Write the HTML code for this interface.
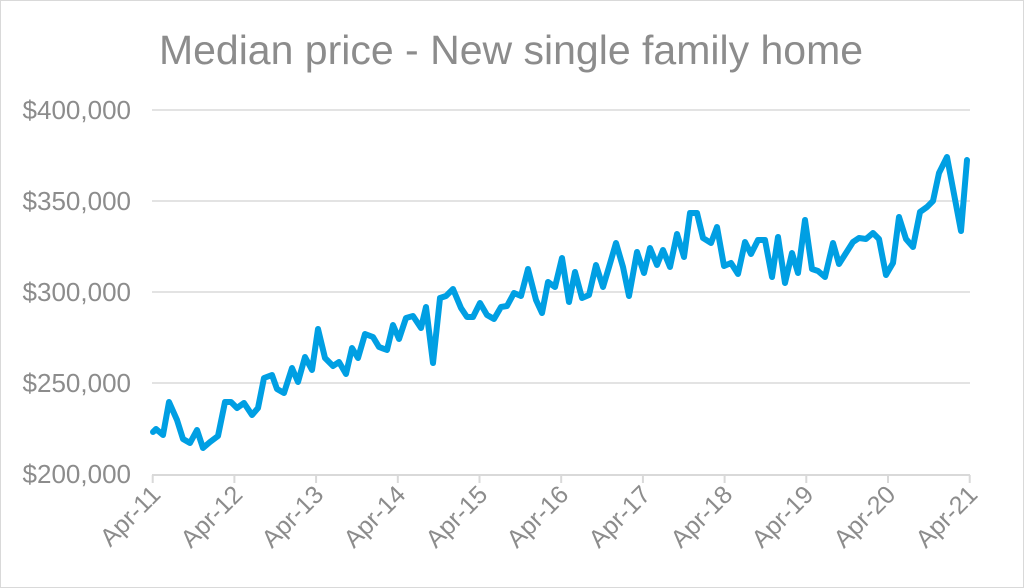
<!DOCTYPE html>
<html><head><style>
html,body{margin:0;padding:0;background:#fff;}
svg{display:block;font-family:"Liberation Sans",Arial,sans-serif;}
</style></head><body>
<svg width="1024" height="588" viewBox="0 0 1024 588">
<rect x="0.5" y="0.5" width="1023" height="587" fill="#fff" stroke="#d9d9d9"/>
<text x="511" y="64" text-anchor="middle" font-size="41" fill="#8c8c8c">Median price - New single family home</text>
<g stroke="#e3e3e3" stroke-width="2">
<line x1="152" y1="110" x2="970" y2="110"/>
<line x1="152" y1="201" x2="970" y2="201"/>
<line x1="152" y1="292" x2="970" y2="292"/>
<line x1="152" y1="383" x2="970" y2="383"/>
</g>
<g stroke="#d9d9d9" stroke-width="2">
<line x1="152" y1="475" x2="970" y2="475"/>
<line x1="152.7" y1="475" x2="152.7" y2="483"/><line x1="234.4" y1="475" x2="234.4" y2="483"/><line x1="316.1" y1="475" x2="316.1" y2="483"/><line x1="397.8" y1="475" x2="397.8" y2="483"/><line x1="479.5" y1="475" x2="479.5" y2="483"/><line x1="561.2" y1="475" x2="561.2" y2="483"/><line x1="642.9" y1="475" x2="642.9" y2="483"/><line x1="724.6" y1="475" x2="724.6" y2="483"/><line x1="806.3" y1="475" x2="806.3" y2="483"/><line x1="888" y1="475" x2="888" y2="483"/><line x1="969.7" y1="475" x2="969.7" y2="483"/>
</g>
<g font-size="26" fill="#8c8c8c" text-anchor="end">
<text x="131" y="119">$400,000</text>
<text x="131" y="210">$350,000</text>
<text x="131" y="301">$300,000</text>
<text x="131" y="392">$250,000</text>
<text x="131" y="483">$200,000</text>
</g>
<g font-size="25" fill="#8c8c8c" text-anchor="end">
<text transform="translate(162,496) rotate(-45)">Apr-11</text>
<text transform="translate(244,496) rotate(-45)">Apr-12</text>
<text transform="translate(325,496) rotate(-45)">Apr-13</text>
<text transform="translate(407,496) rotate(-45)">Apr-14</text>
<text transform="translate(489,496) rotate(-45)">Apr-15</text>
<text transform="translate(570,496) rotate(-45)">Apr-16</text>
<text transform="translate(652,496) rotate(-45)">Apr-17</text>
<text transform="translate(734,496) rotate(-45)">Apr-18</text>
<text transform="translate(815,496) rotate(-45)">Apr-19</text>
<text transform="translate(897,496) rotate(-45)">Apr-20</text>
<text transform="translate(979,496) rotate(-45)">Apr-21</text>
</g>
<polyline fill="none" stroke="#009fe3" stroke-width="6" stroke-linejoin="round" stroke-linecap="round" points="153,432 156,429 163,435 169,402 177,420 183,439 190,443 197,430 203,448 210,442 218,436 225,402 231,402 237,408 244,403 252,415 258,408 264,378 272,375 277,389 284,393 292,368 298,382 305,357 312,370 318,329 325,358 333,366 339,362 346,374 352,348 358,358 365,334 373,337 379,347 387,350 393,325 399,339 406,318 413,316 421,328 426,307 433,363 440,298 446,296 453,289 461,308 467,317 473,317 480,303 487,315 494,319 501,307 507,306 514,293 521,296 528,269 536,300 542,313 548,282 555,287 562,258 569,302 575,272 582,298 589,295 596,265 603,287 609,267 616,243 623,267 629,296 637,252 644,273 650,248 657,265 663,250 670,267 677,234 684,257 690,213 697,213 703,238 711,243 717,227 724,266 731,263 738,274 745,242 751,254 758,240 765,240 772,277 778,237 785,283 792,253 798,273 805,220 812,269 818,271 825,277 833,243 839,264 846,253 853,242 859,238 866,239 873,233 879,239 886,275 893,263 899,217 906,239 913,247 920,212 927,207 933,201 939,173 947,157 961,231 967,160"/>
</svg>
</body></html>
